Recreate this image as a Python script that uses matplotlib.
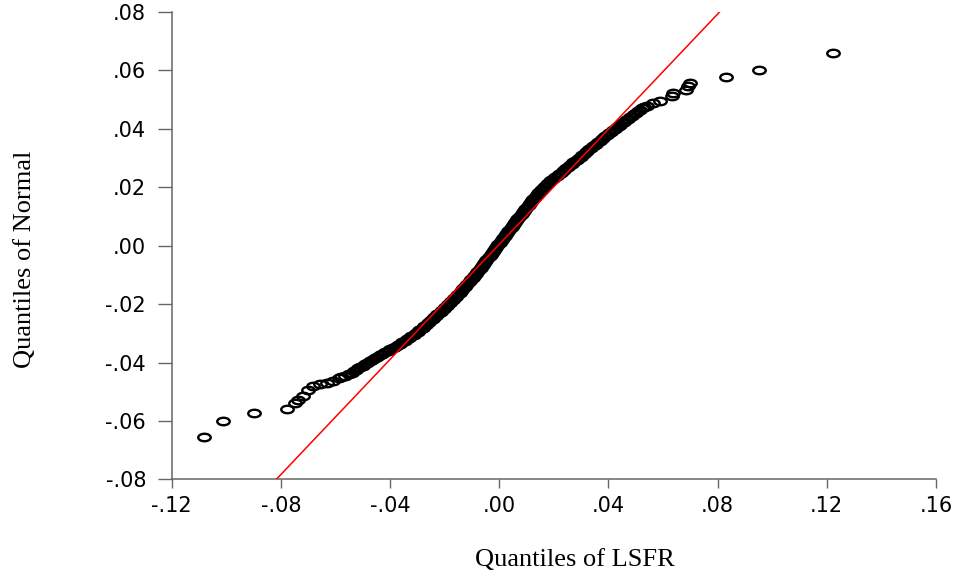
import matplotlib
matplotlib.use("Agg")
import matplotlib.pyplot as plt
from matplotlib.path import Path
from matplotlib.transforms import Affine2D

# Quantile pairs (LSFR on x, Normal on y), lower tail
lsfr_q_low = [-0.1081, -0.1011, -0.0898, -0.0777, -0.0748, -0.0737, -0.0719,
              -0.0700, -0.0682, -0.0657, -0.0631, -0.0609, -0.0587]
normal_q_low = [-0.0654, -0.0599, -0.0572, -0.0558, -0.0537, -0.0527, -0.0514,
                -0.0493, -0.0479, -0.0472, -0.0469, -0.0462, -0.0452]

# Main body of the distribution
normal_q_body = [
    -0.0450, -0.0445, -0.0440, -0.0435, -0.0430, -0.0425, -0.0420, -0.0415,
    -0.0410, -0.0405, -0.0400, -0.0395, -0.0390, -0.0385, -0.0380, -0.0375,
    -0.0370, -0.0365, -0.0360, -0.0355, -0.0350, -0.0345, -0.0340, -0.0335,
    -0.0330, -0.0325, -0.0320, -0.0315, -0.0310, -0.0305, -0.0300, -0.0295,
    -0.0290, -0.0285, -0.0280, -0.0275, -0.0270, -0.0265, -0.0260, -0.0255,
    -0.0250, -0.0245, -0.0240, -0.0235, -0.0230, -0.0225, -0.0220, -0.0215,
    -0.0210, -0.0205, -0.0200, -0.0195, -0.0190, -0.0185, -0.0180, -0.0175,
    -0.0170, -0.0165, -0.0160, -0.0155, -0.0150, -0.0145, -0.0140, -0.0135,
    -0.0130, -0.0125, -0.0120, -0.0115, -0.0110, -0.0105, -0.0100, -0.0095,
    -0.0090, -0.0085, -0.0080, -0.0075, -0.0070, -0.0065, -0.0060, -0.0055,
    -0.0050, -0.0045, -0.0040, -0.0035, -0.0030, -0.0025, -0.0020, -0.0015,
    -0.0010, -0.0005, 0.0000, 0.0005, 0.0010, 0.0015, 0.0020, 0.0025,
    0.0030, 0.0035, 0.0040, 0.0045, 0.0050, 0.0055, 0.0060, 0.0065,
    0.0070, 0.0075, 0.0080, 0.0085, 0.0090, 0.0095, 0.0100, 0.0105,
    0.0110, 0.0115, 0.0120, 0.0125, 0.0130, 0.0135, 0.0140, 0.0145,
    0.0150, 0.0155, 0.0160, 0.0165, 0.0170, 0.0175, 0.0180, 0.0185,
    0.0190, 0.0195, 0.0200, 0.0205, 0.0210, 0.0215, 0.0220, 0.0225,
    0.0230, 0.0235, 0.0240, 0.0245, 0.0250, 0.0255, 0.0260, 0.0265,
    0.0270, 0.0275, 0.0280, 0.0285, 0.0290, 0.0295, 0.0300, 0.0305,
    0.0310, 0.0315, 0.0320, 0.0325, 0.0330, 0.0335, 0.0340, 0.0345,
    0.0350, 0.0355, 0.0360, 0.0365, 0.0370, 0.0375, 0.0380, 0.0385,
    0.0390, 0.0395, 0.0400, 0.0405, 0.0410, 0.0415, 0.0420, 0.0425,
    0.0430, 0.0435, 0.0440, 0.0445, 0.0450, 0.0455, 0.0460, 0.0465,
    0.0470, 0.0475, 0.0480,
]
lsfr_q_body = [
    -0.0581, -0.0566, -0.0552, -0.0541, -0.0533, -0.0525, -0.0517, -0.0509,
    -0.0500, -0.0492, -0.0484, -0.0475, -0.0465, -0.0456, -0.0447, -0.0437,
    -0.0428, -0.0419, -0.0409, -0.0400, -0.0391, -0.0382, -0.0372, -0.0363,
    -0.0355, -0.0347, -0.0339, -0.0330, -0.0322, -0.0314, -0.0306, -0.0299,
    -0.0293, -0.0287, -0.0280, -0.0274, -0.0268, -0.0262, -0.0256, -0.0250,
    -0.0244, -0.0238, -0.0232, -0.0227, -0.0221, -0.0215, -0.0209, -0.0203,
    -0.0197, -0.0191, -0.0186, -0.0181, -0.0176, -0.0170, -0.0165, -0.0160,
    -0.0155, -0.0150, -0.0145, -0.0140, -0.0136, -0.0131, -0.0126, -0.0121,
    -0.0117, -0.0112, -0.0107, -0.0102, -0.0097, -0.0093, -0.0089, -0.0085,
    -0.0080, -0.0076, -0.0072, -0.0068, -0.0064, -0.0060, -0.0056, -0.0052,
    -0.0048, -0.0044, -0.0039, -0.0035, -0.0032, -0.0028, -0.0024, -0.0019,
    -0.0015, -0.0011, -0.0007, -0.0003, 0.0001, 0.0005, 0.0009, 0.0013,
    0.0017, 0.0021, 0.0025, 0.0029, 0.0033, 0.0037, 0.0042, 0.0046,
    0.0050, 0.0054, 0.0058, 0.0062, 0.0066, 0.0070, 0.0074, 0.0078,
    0.0082, 0.0086, 0.0091, 0.0095, 0.0099, 0.0104, 0.0108, 0.0112,
    0.0117, 0.0121, 0.0125, 0.0129, 0.0134, 0.0138, 0.0142, 0.0147,
    0.0153, 0.0158, 0.0163, 0.0169, 0.0174, 0.0179, 0.0185, 0.0190,
    0.0198, 0.0205, 0.0212, 0.0219, 0.0226, 0.0233, 0.0239, 0.0246,
    0.0252, 0.0259, 0.0265, 0.0272, 0.0278, 0.0285, 0.0291, 0.0298,
    0.0304, 0.0310, 0.0317, 0.0323, 0.0330, 0.0336, 0.0342, 0.0349,
    0.0355, 0.0362, 0.0368, 0.0375, 0.0381, 0.0388, 0.0395, 0.0402,
    0.0409, 0.0416, 0.0423, 0.0430, 0.0437, 0.0444, 0.0451, 0.0458,
    0.0465, 0.0472, 0.0479, 0.0486, 0.0494, 0.0501, 0.0509, 0.0517,
    0.0524, 0.0532, 0.0540,
]

# Upper tail
lsfr_q_high = [0.0562, 0.0588, 0.0632, 0.0636, 0.0684, 0.0691, 0.0698,
               0.0830, 0.0951, 0.1221]
normal_q_high = [0.0488, 0.0495, 0.0512, 0.0522, 0.0533, 0.0547, 0.0557,
                 0.0577, 0.0601, 0.0660]

# Reference line of the Q-Q plot
ref_slope = 0.985
ref_intercept = 0.0005

x_ticks = [-0.12, -0.08, -0.04, 0.00, 0.04, 0.08, 0.12, 0.16]
x_tick_labels = ["-.12", "-.08", "-.04", ".00", ".04", ".08", ".12", ".16"]
y_ticks = [-0.08, -0.06, -0.04, -0.02, 0.00, 0.02, 0.04, 0.06, 0.08]
y_tick_labels = ["-.08", "-.06", "-.04", "-.02", ".00", ".02", ".04", ".06", ".08"]

xs = lsfr_q_low + lsfr_q_body + lsfr_q_high
ys = normal_q_low + normal_q_body + normal_q_high

fig = plt.figure(figsize=(9.69, 5.81), dpi=100)
ax = fig.add_axes([0.1772, 0.1747, 0.7887, 0.8046])

# flattened ring marker
ring = Path.unit_circle().transformed(Affine2D().scale(1.0, 0.6))
ax.plot(xs, ys, linestyle="none", marker=ring, markersize=9.0,
        markerfacecolor="none", markeredgecolor="black",
        markeredgewidth=1.7, zorder=2)

y_lo, y_hi = y_ticks[0], y_ticks[-1]
x_ends = [(y_lo - ref_intercept) / ref_slope, (y_hi - ref_intercept) / ref_slope]
ax.plot(x_ends, [ref_slope * v + ref_intercept for v in x_ends],
        color="#ff0000", linewidth=1.1, zorder=3)

ax.set_xlim(x_ticks[0], x_ticks[-1])
ax.set_ylim(y_lo, y_hi)
ax.set_xticks(x_ticks)
ax.set_xticklabels(x_tick_labels)
ax.set_yticks(y_ticks)
ax.set_yticklabels(y_tick_labels)

for side in ("top", "right"):
    ax.spines[side].set_visible(False)
for side in ("left", "bottom"):
    ax.spines[side].set_color("#666666")
    ax.spines[side].set_linewidth(1.1)

ax.tick_params(axis="y", direction="out", length=10, width=1.0, color="#666666",
               pad=8.5, labelsize=15, labelcolor="black")
ax.tick_params(axis="x", direction="out", length=6.5, width=1.0, color="#666666",
               pad=5.5, labelsize=15, labelcolor="black")
for lab in ax.get_xticklabels() + ax.get_yticklabels():
    lab.set_fontfamily("DejaVu Sans")

ax.set_xlabel("Quantiles of LSFR", fontsize=19, family="Liberation Serif")
ax.xaxis.label.set_va("baseline")
ax.xaxis.set_label_coords(0.527, -0.185)
ax.set_ylabel("Quantiles of Normal", fontsize=19, family="Liberation Serif")
ax.yaxis.set_label_coords(-0.178, 0.472)

fig.savefig("out.png", dpi=100, facecolor="white")
